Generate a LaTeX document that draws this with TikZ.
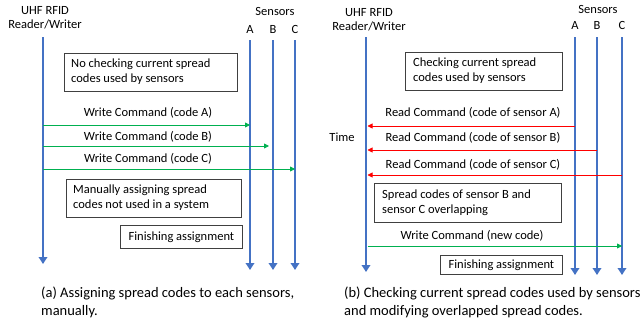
\documentclass[tikz,border=0pt]{standalone}
\usepackage{fontspec}
\setmainfont{Carlito}
\usetikzlibrary{arrows.meta}
\definecolor{lifeblue}{RGB}{68,114,196}
\definecolor{msggreen}{RGB}{0,176,80}
\definecolor{msgred}{RGB}{255,0,0}
\begin{document}
\begin{tikzpicture}[x=1pt,y=-1pt,
  lifeline/.style={draw=lifeblue,line width=2.8pt,-{Triangle[length=7pt,width=8.5pt]}},
  wmsg/.style={draw=msggreen,line width=0.8pt,-{Triangle[length=5pt,width=5pt]}},
  rmsg/.style={draw=msgred,line width=0.8pt,-{Triangle[length=5pt,width=5pt]}},
  notebox/.style={draw=black!75,line width=0.8pt,inner sep=0pt},
  lbl/.style={font=\fontsize{12.5}{14.5}\selectfont,inner sep=0pt,align=center},
  boxtext/.style={font=\fontsize{12.5}{15}\selectfont,inner sep=0pt,align=left,anchor=west},
  captext/.style={font=\fontsize{14.5}{18}\selectfont,inner sep=0pt,align=left,anchor=west}]
\useasboundingbox (0,0) rectangle (640,324);
% ---------------- panel (a) ----------------
\node[lbl] (ta1) at (45,18) {UHF RFID\\Reader/Writer};
\node[lbl] (tsa) at (275,11) {Sensors};
\node[lbl] (la) at (250,29) {A};
\node[lbl] (lb) at (273,29) {B};
\node[lbl] (lc) at (295,29) {C};
\coordinate (r1) at (43,37);  \coordinate (r1e) at (43,264);
\coordinate (a1) at (250,40); \coordinate (a1e) at (250,270);
\coordinate (b1) at (273,40); \coordinate (b1e) at (273,270);
\coordinate (c1) at (295,40); \coordinate (c1e) at (295,270);
\draw[lifeline] (r1) -- (r1e);
\draw[lifeline] (a1) -- (a1e);
\draw[lifeline] (b1) -- (b1e);
\draw[lifeline] (c1) -- (c1e);
\node[notebox,minimum width=173pt,minimum height=38pt,anchor=north west] (n1) at (64,53) {};
\node[boxtext] (n1t) at (71,72) {No checking current spread\\codes used by sensors};
\node[lbl] (m1t) at (148,113) {Write Command (code A)};
\node[lbl] (m2t) at (148,137) {Write Command (code B)};
\node[lbl] (m3t) at (148,159) {Write Command (code C)};
\draw[wmsg] (r1 |- 0,125) -- (a1 |- 0,125);
\draw[wmsg] (r1 |- 0,146) -- ([xshift=-4pt]b1 |- 0,146);
\draw[wmsg] (r1 |- 0,169) -- (c1 |- 0,169);
\node[notebox,minimum width=175pt,minimum height=38pt,anchor=north west] (n2) at (66,179) {};
\node[boxtext] (n2t) at (73,198) {Manually assigning spread\\codes not used in a system};
\node[notebox,minimum width=122pt,minimum height=23pt,anchor=north west] (n3) at (120,225) {};
\node[lbl] (n3t) at (n3.center) {Finishing assignment};
\node[captext] (capa) at (41,302) {(a) Assigning spread codes to each sensors,\\manually.};
% ---------------- panel (b) ----------------
\node[lbl] (tb1) at (369,20) {UHF RFID\\Reader/Writer};
\node[lbl] (tsb) at (598,9) {Sensors};
\node[lbl] (lba) at (575,25) {A};
\node[lbl] (lbb) at (597,25) {B};
\node[lbl] (lbc) at (622,25) {C};
\node[lbl] (time) at (342,137) {Time};
\coordinate (r2) at (366,37);  \coordinate (r2e) at (366,272);
\coordinate (a2) at (575,37); \coordinate (a2e) at (575,275);
\coordinate (b2) at (597,37); \coordinate (b2e) at (597,275);
\coordinate (c2) at (622,37); \coordinate (c2e) at (622,275);
\draw[lifeline] (r2) -- (r2e);
\draw[lifeline] (a2) -- (a2e);
\draw[lifeline] (b2) -- (b2e);
\draw[lifeline] (c2) -- (c2e);
\node[notebox,minimum width=157pt,minimum height=38pt,anchor=north west] (n4) at (405,52) {};
\node[boxtext] (n4t) at (413,71) {Checking current spread\\codes used by sensors};
\node[lbl] (m4t) at (473,113) {Read Command (code of sensor A)};
\node[lbl] (m5t) at (473,138) {Read Command (code of sensor B)};
\node[lbl] (m6t) at (473,165) {Read Command (code of sensor C)};
\draw[rmsg] (a2 |- 0,126) -- ([xshift=1.5pt]r2 |- 0,126);
\draw[rmsg] (b2 |- 0,150) -- ([xshift=1.5pt]r2 |- 0,150);
\draw[rmsg] (c2 |- 0,175) -- ([xshift=1.5pt]r2 |- 0,175);
\node[notebox,minimum width=187pt,minimum height=39pt,anchor=north west] (n5) at (374,183) {};
\node[boxtext] (n5t) at (382,203) {Spread codes of sensor B and\\sensor C overlapping};
\node[lbl] (m7t) at (472,236) {Write Command (new code)};
\draw[wmsg] ([xshift=1.5pt]r2 |- 0,246) -- (c2 |- 0,246);
\node[notebox,minimum width=122pt,minimum height=19pt,anchor=north west] (n6) at (440,255) {};
\node[lbl] (n6t) at (n6.center) {Finishing assignment};
\node[captext] (capb) at (344,302) {(b) Checking current spread codes used by sensors\\and modifying overlapped spread codes.};
\end{tikzpicture}
\end{document}
